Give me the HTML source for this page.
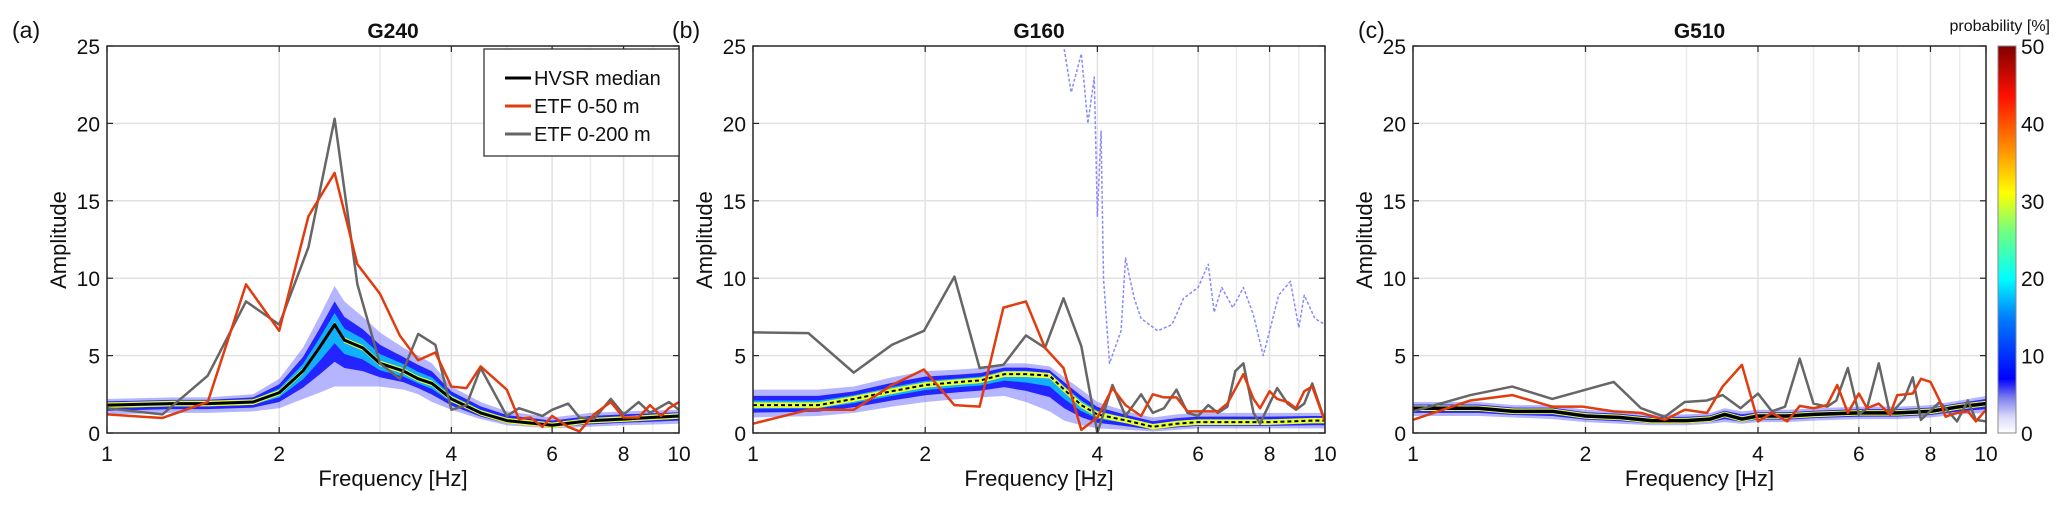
<!DOCTYPE html>
<html><head><meta charset="utf-8"><style>
html,body{margin:0;padding:0;background:#fff;}
svg{display:block;font-family:"Liberation Sans","DejaVu Sans",sans-serif;}
</style></head><body>
<svg id="fig" width="2067" height="508" viewBox="0 0 2067 508" xmlns="http://www.w3.org/2000/svg">
<defs>
<linearGradient id="jet" x1="0" y1="1" x2="0" y2="0">
<stop offset="0" stop-color="#ffffff"/><stop offset="0.04" stop-color="#dcdcfa"/><stop offset="0.09" stop-color="#8080ee"/>
<stop offset="0.14" stop-color="#0000ff"/><stop offset="0.3" stop-color="#0080ff"/><stop offset="0.4" stop-color="#00ffff"/>
<stop offset="0.52" stop-color="#70ff80"/><stop offset="0.62" stop-color="#ffff00"/><stop offset="0.75" stop-color="#ff8000"/>
<stop offset="0.87" stop-color="#ff1000"/><stop offset="1" stop-color="#800000"/>
</linearGradient>
</defs>
</svg>
<script>
// ---------- data ----------
const xTicks = [1,2,4,6,8,10];
const xMinor = [3,5,7,9];
const yTicks = [0,5,10,15,20,25];
const cbTicks = [0,10,20,30,40,50];

// Panel a (G240)
const aMedF = [1,1.3,1.5,1.8,2.0,2.2,2.35,2.5,2.6,2.8,3.0,3.3,3.5,3.7,4,4.5,5,6,7,8,10];
const aMed  = [1.8,1.9,1.9,2.0,2.6,4.0,5.5,7.0,6.0,5.5,4.5,4.0,3.5,3.2,2.2,1.3,0.8,0.5,0.8,0.9,1.1];
const aUp   = [2.2,2.3,2.3,2.5,3.5,5.5,7.5,9.5,8.5,7.5,6.5,5.5,5.0,4.5,3.0,2.0,1.4,1.0,1.3,1.4,1.5];
const aLo   = [1.2,1.3,1.3,1.4,1.6,2.2,2.6,3.0,3.0,3.0,3.0,2.8,2.5,2.0,1.5,0.9,0.5,0.3,0.4,0.5,0.6];
const aRedF = [1,1.25,1.5,1.75,2.0,2.25,2.5,2.74,3.0,3.25,3.5,3.75,4.0,4.25,4.5,5.0,5.25,5.5,5.77,6.0,6.4,6.7,7.1,7.6,8.0,8.5,8.9,9.3,9.6,10];
const aRed  = [1.2,0.97,2.0,9.6,6.6,14,16.8,10.9,9.0,6.3,4.7,5.2,3.0,2.9,4.3,2.8,0.9,1.0,0.4,1.1,0.4,0.1,1.2,2.0,1.0,1.0,1.8,1.1,1.6,2.0];
const aGryF = [1,1.25,1.5,1.75,2.0,2.25,2.5,2.74,3.0,3.25,3.5,3.75,4.0,4.25,4.5,5.0,5.25,5.77,6.0,6.4,6.7,7.1,7.6,8.0,8.5,8.9,9.6,10];
const aGry  = [1.6,1.2,3.7,8.5,7.0,12,20.3,9.6,4.5,3.5,6.4,5.7,1.5,1.8,4.2,1.1,1.6,1.1,1.5,1.9,1.0,0.9,2.2,1.2,2.0,1.3,2.0,1.5];

// Panel b (G160)
const bMedF = [1,1.3,1.5,1.75,2,2.3,2.5,2.75,3,3.3,3.5,3.75,4,4.5,5,5.5,6,8,9.5,10];
const bMed  = [1.8,1.8,2.2,2.7,3.1,3.3,3.4,3.8,3.8,3.7,2.8,1.8,1.2,0.8,0.4,0.6,0.7,0.7,0.8,0.8];
const bUp   = [2.8,2.8,3.0,3.6,4.0,4.1,4.2,4.5,4.5,4.3,3.6,2.8,2.0,1.4,1.0,1.2,1.3,1.3,1.3,1.3];
const bLo   = [1.0,1.1,1.3,1.7,2.0,2.2,2.3,2.4,2.0,1.4,0.8,0.5,0.3,0.2,0.1,0.2,0.3,0.3,0.3,0.3];
const bRedF = [1,1.25,1.5,1.75,1.99,2.25,2.49,2.74,3.0,3.24,3.49,3.75,4.0,4.25,4.48,4.77,5.0,5.23,5.5,5.75,6.0,6.25,6.5,6.75,7.2,7.5,7.7,8.0,8.25,8.6,8.9,9.2,9.5,10];
const bRed  = [0.6,1.5,1.5,3.1,4.1,1.8,1.7,8.1,8.5,5.5,4.2,0.2,1.0,2.9,1.8,1.1,2.5,2.3,2.3,1.4,1.4,1.4,1.4,1.9,3.8,2.2,1.6,2.7,2.2,2.0,1.6,2.7,3.0,0.75];
const bGryF = [1,1.25,1.5,1.75,1.99,2.25,2.49,2.74,3.0,3.24,3.49,3.75,4.0,4.25,4.48,4.77,5.0,5.23,5.5,5.75,6.0,6.25,6.5,6.75,6.97,7.2,7.5,7.7,8.0,8.25,8.6,8.9,9.2,9.5,10];
const bGry  = [6.5,6.45,3.9,5.7,6.6,10.1,4.2,4.4,6.3,5.5,8.7,5.6,0,3.1,1.1,2.5,1.3,1.6,2.8,1.3,1.1,1.8,1.3,1.7,4.0,4.5,1.3,0.6,1.9,2.9,1.9,1.5,1.9,3.2,0.75];
const bOutF = [3.5,3.6,3.75,3.85,3.95,4.0,4.06,4.1,4.2,4.4,4.48,4.64,4.77,5.1,5.4,5.66,6.0,6.25,6.4,6.6,6.9,7.2,7.5,7.8,8.3,8.7,9.0,9.2,9.6,10];
const bOut  = [24.8,22,24.5,20,23,14,19.5,10,4.5,6.6,11.3,8.7,7.4,6.6,7.0,8.7,9.4,10.9,7.8,9.4,8.1,9.4,7.6,5.0,8.9,9.8,6.8,8.9,7.4,7.0];

// Panel c (G510)
const cMedF = [1,1.3,1.5,1.75,2,2.3,2.6,3,3.3,3.5,3.75,4,4.5,5,6,7,8,9,10];
const cMed  = [1.6,1.6,1.4,1.4,1.1,1.0,0.8,0.8,0.9,1.2,0.9,1.1,1.1,1.2,1.3,1.3,1.4,1.7,1.9];
const cUp   = [2.0,2.0,1.8,1.8,1.5,1.4,1.2,1.2,1.3,1.6,1.4,1.5,1.5,1.6,1.7,1.7,1.8,2.1,2.4];
const cLo   = [1.1,1.1,1.0,0.9,0.7,0.6,0.5,0.5,0.6,0.7,0.6,0.7,0.7,0.8,0.9,0.9,1.0,1.2,1.3];
const cRedF = [1,1.26,1.49,1.75,1.98,2.24,2.5,2.75,2.98,3.26,3.47,3.75,4.0,4.23,4.5,4.73,5.0,5.28,5.5,5.74,6.0,6.2,6.5,6.8,7.0,7.45,7.7,8.0,8.3,8.5,8.9,9.3,9.6,10];
const cRed  = [0.85,2.1,2.45,1.7,1.7,1.4,1.3,0.85,1.5,1.3,3.0,4.4,0.75,1.3,0.75,1.75,1.6,1.8,3.1,1.3,2.55,1.6,1.9,1.2,2.45,2.55,3.5,3.3,2.1,1.05,1.3,1.4,0.75,1.5];
const cGryF = [1,1.26,1.49,1.75,2.24,2.5,2.75,2.98,3.26,3.47,3.73,4.0,4.23,4.46,4.73,5.0,5.28,5.48,5.74,6.0,6.2,6.5,6.8,7.2,7.45,7.7,8.3,8.5,8.9,9.3,9.6,10];
const cGry  = [1.4,2.45,3.0,2.2,3.3,1.6,1.05,2.0,2.1,2.45,1.6,2.55,1.4,1.7,4.8,1.9,1.7,2.1,4.2,1.2,1.6,4.5,1.2,2.2,3.6,0.85,2.0,1.6,0.75,2.1,0.85,0.75];

// ---------- drawing ----------
const NS = "http://www.w3.org/2000/svg";
const svg = document.getElementById('fig');
const TOP = 46, BOT = 433;
function mk(tag, attrs, parent){
  const e = document.createElementNS(NS, tag);
  for (const k in attrs) e.setAttribute(k, attrs[k]);
  (parent||svg).appendChild(e); return e;
}
function txt(s, attrs, parent){ const t = mk('text', attrs, parent); t.textContent = s; return t; }

function panel(P){
  const L = P.L, R = P.R, W = R - L, H = BOT - TOP;
  const sx = f => L + Math.log10(f) * W;
  const sy = a => BOT - Math.max(0, Math.min(25, a)) / 25 * H;
  const g = mk('g', {});
  
  
  const clipId = 'clip-' + P.id;
  const cp = mk('clipPath', {id: clipId}, g);
  mk('rect', {x: L, y: TOP, width: W, height: H}, cp);
  xMinor.forEach(f => mk('line', {x1: sx(f), x2: sx(f), y1: TOP, y2: BOT, stroke: '#ececec', 'stroke-width': 1.5}, g));
  xTicks.slice(1, -1).forEach(f => mk('line', {x1: sx(f), x2: sx(f), y1: TOP, y2: BOT, stroke: '#e2e2e2', 'stroke-width': 1.5}, g));
  yTicks.slice(1, -1).forEach(a => mk('line', {x1: L, x2: R, y1: sy(a), y2: sy(a), stroke: '#e2e2e2', 'stroke-width': 1.5}, g));
  const cg = mk('g', {'clip-path': 'url(#' + clipId + ')'}, g);
  function band(F, up, lo, fill, op, name){
    let d = 'M' + F.map((f, i) => sx(f) + ',' + sy(up[i])).join('L');
    for (let i = F.length - 1; i >= 0; i--) d += 'L' + sx(F[i]) + ',' + sy(lo[i]);
    const p = mk('path', {d: d + 'Z', fill: fill, opacity: op}, cg);
    
    
  }
  const med = P.med;
  const scl = (arr, k) => med.map((m, i) => m + (arr[i] - m) * k);
  band(P.medF, P.up, P.lo, '#5a5aff', 0.45, P.id + '-density-outer');
  band(P.medF, scl(P.up, 0.6), scl(P.lo, 0.6), '#1414ff', 0.9, P.id + '-density-dense');
  band(P.medF, scl(P.up, 0.3), scl(P.lo, 0.3), '#10c0ff', 0.9, P.id + '-density-mid');
  band(P.medF, med.map(v => v + 0.18), med.map(v => v - 0.18), '#e8ff30', 1, P.id + '-density-core');
  function line(F, V, col, w, name, dash){
    const a = {points: F.map((f, i) => sx(f) + ',' + sy(V[i])).join(' '), fill: 'none', stroke: col, 'stroke-width': w, 'stroke-linejoin': 'round'};
    if (dash) a['stroke-dasharray'] = dash;
    const p = mk('polyline', a, cg);
    
    
  }
  if (P.outF) line(P.outF, P.out, '#8888ff', 1.5, P.id + '-outlier-trace', '3,2');
  line(P.medF, med, '#000', P.medW, P.id + '-hvsr-median', P.medDash);
  line(P.grF, P.gr, '#666666', 2.5, P.id + '-etf-0-200');
  line(P.rF, P.r, '#e03c10', 2.5, P.id + '-etf-0-50');
  mk('rect', {x: L, y: TOP, width: W, height: H, fill: 'none', stroke: '#262626', 'stroke-width': 1.5}, g);
  xTicks.forEach(f => {
    mk('line', {x1: sx(f), x2: sx(f), y1: BOT, y2: BOT - 6, stroke: '#262626', 'stroke-width': 1.2}, g);
    mk('line', {x1: sx(f), x2: sx(f), y1: TOP, y2: TOP + 6, stroke: '#262626', 'stroke-width': 1.2}, g);
    const t = txt(String(f), {x: sx(f), y: 461, 'text-anchor': 'middle', 'font-size': 21, fill: '#111'}, g);
    
    
  });
  yTicks.forEach(a => {
    mk('line', {x1: L, x2: L + 6, y1: sy(a), y2: sy(a), stroke: '#262626', 'stroke-width': 1.2}, g);
    mk('line', {x1: R, x2: R - 6, y1: sy(a), y2: sy(a), stroke: '#262626', 'stroke-width': 1.2}, g);
    const t = txt(String(a), {x: L - 7, y: sy(a) + 8, 'text-anchor': 'end', 'font-size': 21, fill: '#111'}, g);
    
    
  });
  const xt = txt('Frequency [Hz]', {x: (L + R) / 2, y: 486, 'text-anchor': 'middle', 'font-size': 22, fill: '#111'}, g);
  
  
  const yt = txt('Amplitude', {x: 0, y: 0, 'text-anchor': 'middle', 'font-size': 22, fill: '#111', transform: 'translate(' + P.yLabX + ',240) rotate(-90)'}, g);
  
  
  const tt = txt(P.title, {x: (L + R) / 2, y: 38, 'text-anchor': 'middle', 'font-size': 21, 'font-weight': 'bold', fill: '#111'}, g);
  
  
  const pl = txt(P.tag, {x: P.tagX, y: 38, 'font-size': 23, fill: '#111'}, g);
  
  
}

panel({id:'g240', L:107, R:679, title:'G240', tag:'(a)', tagX:12, yLabX:66,
  medF:aMedF, med:aMed, up:aUp, lo:aLo, rF:aRedF, r:aRed, grF:aGryF, gr:aGry, medW:3});
panel({id:'g160', L:753, R:1325, title:'G160', tag:'(b)', tagX:672, yLabX:712,
  medF:bMedF, med:bMed, up:bUp, lo:bLo, rF:bRedF, r:bRed, grF:bGryF, gr:bGry, outF:bOutF, out:bOut, medW:2, medDash:'4,3'});
panel({id:'g510', L:1413, R:1986, title:'G510', tag:'(c)', tagX:1358, yLabX:1372,
  medF:cMedF, med:cMed, up:cUp, lo:cLo, rF:cRedF, r:cRed, grF:cGryF, gr:cGry, medW:3.5});

const lg = mk('g', {});


mk('rect', {x: 484, y: 49, width: 195, height: 107, fill: '#fff', stroke: '#262626', 'stroke-width': 1.2}, lg);
const legNames = ['HVSR median', 'ETF 0-50 m', 'ETF 0-200 m'];
const legCols = ['#000', '#e03c10', '#666666'];
legNames.forEach((n, i) => {
  const y = 78 + i * 28;
  mk('line', {x1: 505, x2: 531, y1: y, y2: y, stroke: legCols[i], 'stroke-width': 3}, lg);
  const t = txt(n, {x: 534, y: y + 7, 'font-size': 20, fill: '#111'}, lg);
  
  
});

const cb = mk('g', {});


mk('rect', {x: 1998, y: TOP, width: 18, height: BOT - TOP, fill: 'url(#jet)', stroke: '#888', 'stroke-width': 1}, cb);
cbTicks.forEach(v => {
  const y = BOT - v / 50 * (BOT - TOP);
  const t = txt(String(v), {x: 2021, y: y + 8, 'font-size': 21, fill: '#111'}, cb);
  
  
});
const cbt = txt('probability [%]', {x: 2050, y: 31, 'text-anchor': 'end', 'font-size': 16, fill: '#111'}, cb);


</script>
</body></html>
